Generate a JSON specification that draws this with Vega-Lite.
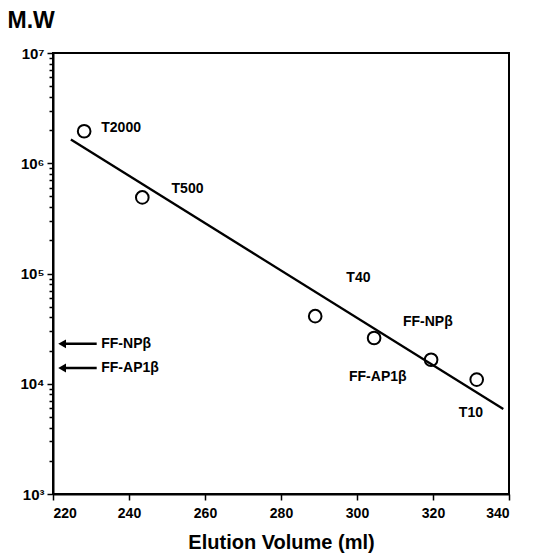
{
  "$schema": "https://vega.github.io/schema/vega-lite/v6.json",
  "width": 456,
  "height": 441,
  "autosize": {"type": "none"},
  "padding": {"left": 53, "top": 53, "right": 25, "bottom": 63},
  "background": "white",
  "config": {
    "view": {"stroke": "black", "strokeWidth": 2},
    "font": "Liberation Sans",
    "axis": {
      "grid": false,
      "domainColor": "black",
      "domainWidth": 2,
      "tickColor": "black",
      "tickWidth": 1.5,
      "labelFont": "Liberation Sans",
      "labelFontWeight": "bold",
      "labelFontSize": 14,
      "labelColor": "black",
      "titleFont": "Liberation Sans",
      "titleFontWeight": "bold",
      "titleColor": "black"
    }
  },
  "datasets": {
    "points": [
      {"name": "T2000", "vol": 228.2, "mw": 1950000},
      {"name": "T500", "vol": 243.5, "mw": 490000},
      {"name": "T40", "vol": 289, "mw": 41000},
      {"name": "FF-AP1β", "vol": 304.5, "mw": 26000},
      {"name": "FF-NPβ", "vol": 319.5, "mw": 16500},
      {"name": "T10", "vol": 331.5, "mw": 10900}
    ],
    "labels": [
      {"text": "T2000", "vol": 232.7, "mw": 2070000},
      {"text": "T500", "vol": 251.2, "mw": 580000},
      {"text": "T40", "vol": 297.2, "mw": 91500},
      {"text": "FF-NPβ", "vol": 312.1, "mw": 36600},
      {"text": "FF-AP1β", "vol": 297.9, "mw": 11600},
      {"text": "T10", "vol": 326.8, "mw": 5420},
      {"text": "FF-NPβ", "vol": 232.7, "mw": 23000},
      {"text": "FF-AP1β", "vol": 232.7, "mw": 13900}
    ],
    "fit": [
      {"vol": 224.7, "mw": 1640000},
      {"vol": 338.5, "mw": 5900}
    ],
    "arrows": [
      {"name": "FF-NPβ", "tip": 222.4, "tail": 231.5, "mw": 23000},
      {"name": "FF-AP1β", "tip": 222.4, "tail": 231.5, "mw": 13900}
    ]
  },
  "layer": [
    {
      "data": {"name": "fit"},
      "mark": {"type": "line", "color": "black", "strokeWidth": 2.3},
      "encoding": {
        "x": {
          "field": "vol", "type": "quantitative",
          "scale": {"domain": [220, 340], "nice": false, "zero": false},
          "axis": {
            "title": "Elution Volume (ml)",
            "titleFontSize": 20,
            "titlePadding": 12,
            "values": [220, 230, 240, 250, 260, 270, 280, 290, 300, 310, 320, 330, 340],
            "labelExpr": "datum.value % 20 == 0 ? datum.label : ''",
            "tickSize": {"condition": {"test": "datum.value % 20 == 0", "value": 6}, "value": 4},
            "labelPadding": 6
          }
        },
        "y": {
          "field": "mw", "type": "quantitative",
          "scale": {"type": "log", "domain": [1000, 10000000], "nice": false},
          "axis": {
            "title": "M.W",
            "titleAngle": 0,
            "titleFontSize": 23,
            "titleAlign": "left",
            "titleBaseline": "middle",
            "titleX": -46,
            "titleY": -33,
            "values": [1000, 2000, 3000, 4000, 5000, 6000, 7000, 8000, 9000,
                       10000, 20000, 30000, 40000, 50000, 60000, 70000, 80000, 90000,
                       100000, 200000, 300000, 400000, 500000, 600000, 700000, 800000, 900000,
                       1000000, 2000000, 3000000, 4000000, 5000000, 6000000, 7000000, 8000000, 9000000,
                       10000000],
            "labelExpr": "abs(log(datum.value)/LN10 - round(log(datum.value)/LN10)) < 0.001 ? '10' + ['⁰','¹','²','³','⁴','⁵','⁶','⁷'][round(log(datum.value)/LN10)] : ''",
            "labelFontSize": 15,
            "tickSize": {"condition": {"test": "abs(log(datum.value)/LN10 - round(log(datum.value)/LN10)) < 0.001", "value": 6}, "value": 4},
            "labelPadding": 3
          }
        }
      }
    },
    {
      "data": {"name": "points"},
      "mark": {"type": "point", "shape": "circle", "filled": false, "color": "black", "strokeWidth": 2, "size": 160, "opacity": 1},
      "encoding": {
        "x": {"field": "vol", "type": "quantitative"},
        "y": {"field": "mw", "type": "quantitative"}
      }
    },
    {
      "data": {"name": "labels"},
      "mark": {"type": "text", "align": "left", "baseline": "middle", "fontWeight": "bold", "fontSize": 14, "color": "black", "font": "Liberation Sans"},
      "encoding": {
        "x": {"field": "vol", "type": "quantitative"},
        "y": {"field": "mw", "type": "quantitative"},
        "text": {"field": "text"}
      }
    },
    {
      "data": {"name": "arrows"},
      "mark": {"type": "rule", "color": "black", "strokeWidth": 2.5},
      "encoding": {
        "x": {"field": "tip", "type": "quantitative"},
        "x2": {"field": "tail"},
        "y": {"field": "mw", "type": "quantitative"}
      }
    },
    {
      "data": {"name": "arrows"},
      "mark": {"type": "point", "shape": "triangle-left", "filled": true, "color": "black", "size": 80, "opacity": 1},
      "encoding": {
        "x": {"field": "tip", "type": "quantitative"},
        "y": {"field": "mw", "type": "quantitative"}
      }
    }
  ]
}
